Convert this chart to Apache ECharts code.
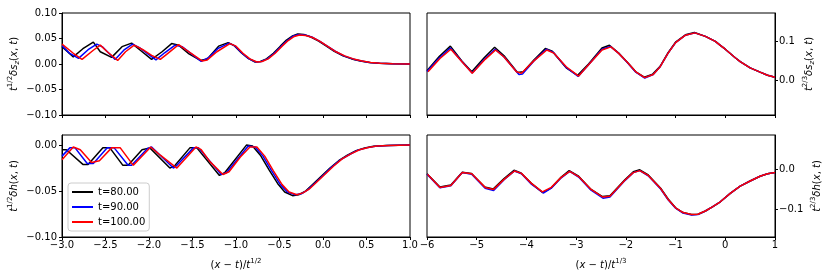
<!DOCTYPE html>
<html>
<head>
<meta charset="utf-8">
<script src="https://cdn.jsdelivr.net/npm/echarts@6/dist/echarts.min.js"></script>
<style>
  html, body { margin: 0; padding: 0; background: #fff; }
  #chart { width: 830px; height: 277px; }
</style>
</head>
<body>
<div id="chart"></div>
<script>
var seriesNames = ['t=80.00', 't=90.00', 't=100.00'];
var seriesColors = ['#000000', '#0000ff', '#ff0000'];

// x tick labels
var xTicksHalf = [-3, -2.5, -2, -1.5, -1, -0.5, 0, 0.5, 1];
var xTicksThird = [-6, -5, -4, -3, -2, -1, 0, 1];
// y tick labels
var yTicksSzHalf = [-0.1, -0.05, 0, 0.05, 0.1];
var yTicksHHalf = [-0.1, -0.05, 0];
var yTicksSzThird = [0, 0.1];
var yTicksHThird = [-0.1, 0];

// top left: t^{1/2} δs_z vs (x-t)/t^{1/2}
var sz12_80 = [[-3.00, 0.034], [-2.87, 0.014], [-2.76, 0.030], [-2.64, 0.043], [-2.56, 0.024], [-2.43, 0.013], [-2.31, 0.034], [-2.20, 0.041], [-2.10, 0.027], [-1.97, 0.009], [-1.85, 0.024], [-1.74, 0.040], [-1.66, 0.037], [-1.55, 0.021], [-1.41, 0.007], [-1.33, 0.010], [-1.20, 0.035], [-1.09, 0.042], [-1.02, 0.036], [-0.94, 0.022], [-0.86, 0.011], [-0.78, 0.004], [-0.72, 0.005], [-0.65, 0.010], [-0.57, 0.021], [-0.49, 0.035], [-0.42, 0.047], [-0.35, 0.055], [-0.29, 0.059], [-0.22, 0.058], [-0.14, 0.053], [-0.05, 0.045], [0.03, 0.036], [0.13, 0.025], [0.23, 0.016], [0.33, 0.010], [0.43, 0.006], [0.53, 0.003], [0.64, 0.0015], [0.80, 0.0005], [1.00, 0.0]];
var sz12_90 = [[-3.00, 0.036], [-2.92, 0.022], [-2.81, 0.011], [-2.70, 0.028], [-2.60, 0.039], [-2.53, 0.033], [-2.39, 0.009], [-2.29, 0.027], [-2.19, 0.039], [-2.11, 0.032], [-1.92, 0.008], [-1.82, 0.022], [-1.70, 0.037], [-1.62, 0.034], [-1.40, 0.005], [-1.31, 0.013], [-1.21, 0.030], [-1.08, 0.041], [-1.01, 0.035], [-0.93, 0.021], [-0.85, 0.010], [-0.77, 0.004], [-0.71, 0.005], [-0.64, 0.010], [-0.56, 0.021], [-0.48, 0.035], [-0.41, 0.046], [-0.34, 0.055], [-0.28, 0.058], [-0.21, 0.057], [-0.13, 0.053], [-0.04, 0.045], [0.04, 0.036], [0.14, 0.025], [0.24, 0.016], [0.34, 0.010], [0.44, 0.006], [0.54, 0.003], [0.65, 0.0015], [0.80, 0.0005], [1.00, 0.0]];
var sz12_100 = [[-3.00, 0.039], [-2.87, 0.021], [-2.77, 0.009], [-2.64, 0.027], [-2.56, 0.037], [-2.48, 0.024], [-2.36, 0.007], [-2.27, 0.024], [-2.17, 0.037], [-2.07, 0.028], [-1.97, 0.017], [-1.87, 0.009], [-1.79, 0.020], [-1.66, 0.038], [-1.57, 0.027], [-1.39, 0.006], [-1.33, 0.008], [-1.22, 0.024], [-1.07, 0.040], [-1.00, 0.035], [-0.92, 0.021], [-0.84, 0.010], [-0.76, 0.004], [-0.70, 0.005], [-0.63, 0.010], [-0.55, 0.021], [-0.47, 0.035], [-0.40, 0.046], [-0.33, 0.054], [-0.27, 0.057], [-0.20, 0.056], [-0.12, 0.052], [-0.03, 0.044], [0.05, 0.035], [0.15, 0.024], [0.25, 0.016], [0.35, 0.010], [0.45, 0.006], [0.55, 0.003], [0.66, 0.0015], [0.80, 0.0005], [1.00, 0.0]];

// bottom left: t^{1/2} δh vs (x-t)/t^{1/2}
var h12_80 = [[-3.00, -0.005], [-2.95, -0.005], [-2.76, -0.021], [-2.70, -0.021], [-2.53, -0.003], [-2.45, -0.003], [-2.30, -0.022], [-2.24, -0.022], [-2.08, -0.005], [-1.99, -0.003], [-1.76, -0.025], [-1.70, -0.022], [-1.53, -0.003], [-1.45, -0.003], [-1.19, -0.033], [-1.13, -0.030], [-0.88, 0.000], [-0.81, -0.001], [-0.72, -0.011], [-0.62, -0.027], [-0.52, -0.042], [-0.44, -0.051], [-0.35, -0.055], [-0.28, -0.054], [-0.20, -0.050], [-0.12, -0.043], [-0.02, -0.034], [0.08, -0.025], [0.18, -0.017], [0.28, -0.011], [0.38, -0.006], [0.48, -0.003], [0.58, -0.0013], [0.73, -0.0003], [1.00, 0.0]];
var h12_90 = [[-3.00, -0.012], [-2.91, -0.003], [-2.85, -0.003], [-2.71, -0.020], [-2.64, -0.020], [-2.48, -0.003], [-2.40, -0.003], [-2.24, -0.022], [-2.20, -0.022], [-2.02, -0.004], [-1.97, -0.002], [-1.72, -0.025], [-1.69, -0.023], [-1.49, -0.003], [-1.43, -0.003], [-1.17, -0.032], [-1.11, -0.030], [-0.86, -0.001], [-0.78, -0.002], [-0.69, -0.012], [-0.59, -0.028], [-0.49, -0.043], [-0.41, -0.051], [-0.32, -0.054], [-0.25, -0.053], [-0.18, -0.049], [-0.10, -0.042], [0.00, -0.033], [0.10, -0.024], [0.20, -0.016], [0.30, -0.0105], [0.40, -0.0055], [0.50, -0.003], [0.60, -0.0012], [0.75, -0.0003], [1.00, 0.0]];
var h12_100 = [[-3.00, -0.016], [-2.87, -0.002], [-2.79, -0.005], [-2.66, -0.019], [-2.57, -0.017], [-2.43, -0.003], [-2.33, -0.003], [-2.18, -0.022], [-1.98, -0.002], [-1.87, -0.011], [-1.68, -0.025], [-1.46, -0.002], [-1.40, -0.005], [-1.30, -0.018], [-1.15, -0.032], [-1.08, -0.029], [-0.95, -0.013], [-0.84, -0.002], [-0.76, -0.002], [-0.67, -0.012], [-0.57, -0.028], [-0.47, -0.043], [-0.39, -0.051], [-0.30, -0.054], [-0.23, -0.052], [-0.16, -0.048], [-0.08, -0.041], [0.02, -0.032], [0.12, -0.023], [0.22, -0.015], [0.32, -0.0095], [0.42, -0.005], [0.52, -0.0025], [0.62, -0.001], [0.77, -0.0003], [1.00, 0.0]];

// top right: t^{2/3} δs_z vs (x-t)/t^{1/3}
var sz23_80 = [[-6.00, 0.025], [-5.75, 0.062], [-5.53, 0.088], [-5.30, 0.050], [-5.10, 0.022], [-4.85, 0.058], [-4.64, 0.085], [-4.45, 0.063], [-4.18, 0.020], [-4.06, 0.022], [-3.85, 0.052], [-3.62, 0.082], [-3.48, 0.075], [-3.20, 0.032], [-2.97, 0.013], [-2.75, 0.042], [-2.48, 0.083], [-2.33, 0.090], [-2.15, 0.071], [-1.98, 0.048], [-1.80, 0.022], [-1.63, 0.008], [-1.46, 0.016], [-1.31, 0.036], [-1.15, 0.071], [-1.00, 0.098], [-0.80, 0.117], [-0.62, 0.123], [-0.40, 0.113], [-0.20, 0.100], [-0.10, 0.090], [0.00, 0.080], [0.20, 0.058], [0.30, 0.048], [0.50, 0.032], [0.70, 0.021], [0.85, 0.013], [1.00, 0.008]];
var sz23_90 = [[-6.00, 0.023], [-5.75, 0.058], [-5.53, 0.083], [-5.28, 0.046], [-5.09, 0.019], [-4.84, 0.055], [-4.63, 0.080], [-4.45, 0.060], [-4.15, 0.015], [-4.08, 0.016], [-3.85, 0.050], [-3.60, 0.080], [-3.46, 0.072], [-3.20, 0.033], [-2.96, 0.010], [-2.75, 0.040], [-2.48, 0.080], [-2.31, 0.087], [-2.15, 0.070], [-1.98, 0.047], [-1.80, 0.021], [-1.62, 0.006], [-1.45, 0.015], [-1.31, 0.035], [-1.15, 0.070], [-1.00, 0.097], [-0.80, 0.116], [-0.61, 0.122], [-0.40, 0.113], [-0.20, 0.100], [-0.10, 0.090], [0.00, 0.080], [0.20, 0.058], [0.30, 0.048], [0.50, 0.032], [0.70, 0.021], [0.85, 0.013], [1.00, 0.008]];
var sz23_100 = [[-5.98, 0.022], [-5.74, 0.056], [-5.52, 0.080], [-5.27, 0.044], [-5.09, 0.018], [-4.83, 0.054], [-4.62, 0.078], [-4.45, 0.060], [-4.20, 0.022], [-4.10, 0.018], [-3.85, 0.050], [-3.59, 0.078], [-3.45, 0.070], [-3.20, 0.035], [-2.95, 0.011], [-2.75, 0.040], [-2.48, 0.078], [-2.30, 0.086], [-2.15, 0.070], [-1.98, 0.048], [-1.80, 0.022], [-1.62, 0.007], [-1.45, 0.015], [-1.31, 0.035], [-1.15, 0.070], [-1.00, 0.097], [-0.80, 0.116], [-0.61, 0.122], [-0.40, 0.113], [-0.20, 0.100], [-0.10, 0.090], [0.00, 0.080], [0.20, 0.058], [0.30, 0.048], [0.50, 0.032], [0.70, 0.021], [0.85, 0.013], [1.00, 0.008]];

// bottom right: t^{2/3} δh vs (x-t)/t^{1/3}
var h23_80 = [[-6.00, -0.011], [-5.74, -0.044], [-5.52, -0.039], [-5.29, -0.007], [-5.11, -0.010], [-4.84, -0.044], [-4.67, -0.049], [-4.45, -0.023], [-4.25, -0.002], [-4.11, -0.009], [-3.90, -0.035], [-3.67, -0.058], [-3.50, -0.046], [-3.30, -0.019], [-3.14, -0.003], [-2.95, -0.017], [-2.70, -0.050], [-2.47, -0.068], [-2.32, -0.066], [-2.02, -0.026], [-1.85, -0.006], [-1.72, -0.001], [-1.55, -0.014], [-1.30, -0.047], [-1.15, -0.074], [-1.00, -0.096], [-0.85, -0.108], [-0.68, -0.113], [-0.55, -0.112], [-0.40, -0.104], [-0.25, -0.093], [-0.10, -0.081], [0.10, -0.060], [0.30, -0.042], [0.50, -0.029], [0.70, -0.017], [0.85, -0.011], [1.00, -0.0075]];
var h23_90 = [[-6.00, -0.012], [-5.74, -0.046], [-5.52, -0.041], [-5.29, -0.008], [-5.10, -0.012], [-4.83, -0.047], [-4.66, -0.053], [-4.45, -0.026], [-4.24, -0.004], [-4.10, -0.011], [-3.90, -0.037], [-3.66, -0.059], [-3.50, -0.047], [-3.30, -0.021], [-3.13, -0.005], [-2.95, -0.019], [-2.70, -0.052], [-2.46, -0.072], [-2.32, -0.069], [-2.02, -0.028], [-1.85, -0.008], [-1.72, -0.003], [-1.55, -0.016], [-1.30, -0.049], [-1.15, -0.076], [-1.00, -0.097], [-0.85, -0.109], [-0.68, -0.114], [-0.55, -0.113], [-0.40, -0.104], [-0.25, -0.093], [-0.10, -0.081], [0.10, -0.060], [0.30, -0.042], [0.50, -0.029], [0.70, -0.017], [0.85, -0.011], [1.00, -0.0075]];
var h23_100 = [[-5.99, -0.012], [-5.74, -0.045], [-5.52, -0.040], [-5.29, -0.008], [-5.10, -0.011], [-4.83, -0.045], [-4.66, -0.050], [-4.45, -0.025], [-4.24, -0.004], [-4.10, -0.010], [-3.90, -0.035], [-3.68, -0.056], [-3.50, -0.045], [-3.30, -0.020], [-3.13, -0.005], [-2.95, -0.018], [-2.70, -0.050], [-2.47, -0.069], [-2.32, -0.067], [-2.02, -0.027], [-1.85, -0.008], [-1.72, -0.003], [-1.55, -0.015], [-1.30, -0.048], [-1.15, -0.075], [-1.00, -0.096], [-0.85, -0.108], [-0.68, -0.113], [-0.55, -0.112], [-0.40, -0.104], [-0.25, -0.093], [-0.10, -0.081], [0.10, -0.060], [0.30, -0.042], [0.50, -0.029], [0.70, -0.017], [0.85, -0.011], [1.00, -0.0075]];

var font = 'DejaVu Sans';

function fmt(decimals) {
  return function (v) {
    return (+v).toFixed(decimals).replace('-', '\u2212');
  };
}

var nameRich = {
  i: { fontFamily: font, fontStyle: 'italic', fontSize: 10, lineHeight: 14, color: '#000' },
  n: { fontFamily: font, fontSize: 10, lineHeight: 14, color: '#000' },
  sup: { fontFamily: font, fontSize: 7, lineHeight: 6, verticalAlign: 'top', color: '#000' },
  sub: { fontFamily: font, fontStyle: 'italic', fontSize: 7, lineHeight: 6, verticalAlign: 'bottom', color: '#000' }
};

function xAxis(grid, ticks, decimals, showLabels, name) {
  return {
    gridIndex: grid,
    type: 'value',
    min: ticks[0],
    max: ticks[ticks.length - 1],
    interval: ticks[1] - ticks[0],
    name: name || '',
    nameLocation: 'middle',
    nameGap: 21,
    nameTextStyle: { rich: nameRich },
    axisLine: { show: true, onZero: false, lineStyle: { color: '#000', width: 1 } },
    axisTick: { show: true, length: 3, lineStyle: { color: '#000', width: 1 } },
    axisLabel: { show: showLabels, color: '#000', fontFamily: font, fontSize: 10, margin: 3, formatter: fmt(decimals) },
    splitLine: { show: false }
  };
}

function yAxis(grid, min, max, ticks, decimals, side, name, gap) {
  return {
    gridIndex: grid,
    type: 'value',
    position: side,
    min: min,
    max: max,
    name: name,
    nameLocation: 'middle',
    nameRotate: 90,
    nameGap: gap,
    nameTextStyle: { rich: nameRich },
    axisLine: { show: true, onZero: false, lineStyle: { color: '#000', width: 1 } },
    axisTick: { show: true, length: 3, customValues: ticks, lineStyle: { color: '#000', width: 1 } },
    axisLabel: { color: '#000', fontFamily: font, fontSize: 10, margin: side === 'left' ? 5 : 4, customValues: ticks, formatter: fmt(decimals) },
    splitLine: { show: false }
  };
}

function lines(grid, sets) {
  return sets.map(function (d, k) {
    return {
      name: seriesNames[k],
      type: 'line',
      xAxisIndex: grid,
      yAxisIndex: grid,
      data: d,
      symbol: 'none',
      showSymbol: false,
      color: seriesColors[k],
      lineStyle: { color: seriesColors[k], width: 1.5 },
      z: 2 + k
    };
  });
}

var gridBox = { show: true, borderColor: '#000', borderWidth: 1, backgroundColor: 'transparent', containLabel: false };

var option = {
  animation: false,
  backgroundColor: '#fff',
  grid: [
    Object.assign({ left: 62, top: 13, width: 348, height: 102 }, gridBox),
    Object.assign({ left: 427, top: 13, width: 348, height: 102 }, gridBox),
    Object.assign({ left: 62, top: 135, width: 348, height: 102 }, gridBox),
    Object.assign({ left: 427, top: 135, width: 348, height: 102 }, gridBox)
  ],
  xAxis: [
    xAxis(0, xTicksHalf, 1, false),
    xAxis(1, xTicksThird, 0, false),
    xAxis(2, xTicksHalf, 1, true, '{n|(}{i|x}{n| \u2212 }{i|t}{n|)/}{i|t}{sup|1/2}'),
    xAxis(3, xTicksThird, 0, true, '{n|(}{i|x}{n| \u2212 }{i|t}{n|)/}{i|t}{sup|1/3}')
  ],
  yAxis: [
    yAxis(0, -0.1, 0.1, yTicksSzHalf, 2, 'left', '{i|t}{sup|1/2}{i|\u03b4s}{sub|z}{n|(}{i|x}{n|, }{i|t}{n|)}', 41),
    yAxis(1, -0.089, 0.173, yTicksSzThird, 1, 'right', '{i|t}{sup|2/3}{i|\u03b4s}{sub|z}{n|(}{i|x}{n|, }{i|t}{n|)}', 27),
    yAxis(2, -0.1, 0.011, yTicksHHalf, 2, 'left', '{i|t}{sup|1/2}{i|\u03b4h}{n|(}{i|x}{n|, }{i|t}{n|)}', 41),
    yAxis(3, -0.169, 0.086, yTicksHThird, 1, 'right', '{i|t}{sup|2/3}{i|\u03b4h}{n|(}{i|x}{n|, }{i|t}{n|)}', 35)
  ],
  legend: {
    data: seriesNames,
    orient: 'vertical',
    left: 68,
    top: 183,
    icon: 'rect',
    itemWidth: 21,
    itemHeight: 2,
    itemGap: 3,
    padding: [3, 4],
    backgroundColor: 'rgba(255,255,255,0.8)',
    borderColor: '#cccccc',
    borderWidth: 1,
    borderRadius: 3,
    textStyle: { color: '#000', fontFamily: font, fontSize: 10, lineHeight: 12 }
  },
  series: []
    .concat(lines(0, [sz12_80, sz12_90, sz12_100]))
    .concat(lines(1, [sz23_80, sz23_90, sz23_100]))
    .concat(lines(2, [h12_80, h12_90, h12_100]))
    .concat(lines(3, [h23_80, h23_90, h23_100]))
};

var chart = echarts.init(document.getElementById('chart'));
chart.setOption(option);
</script>
</body>
</html>
